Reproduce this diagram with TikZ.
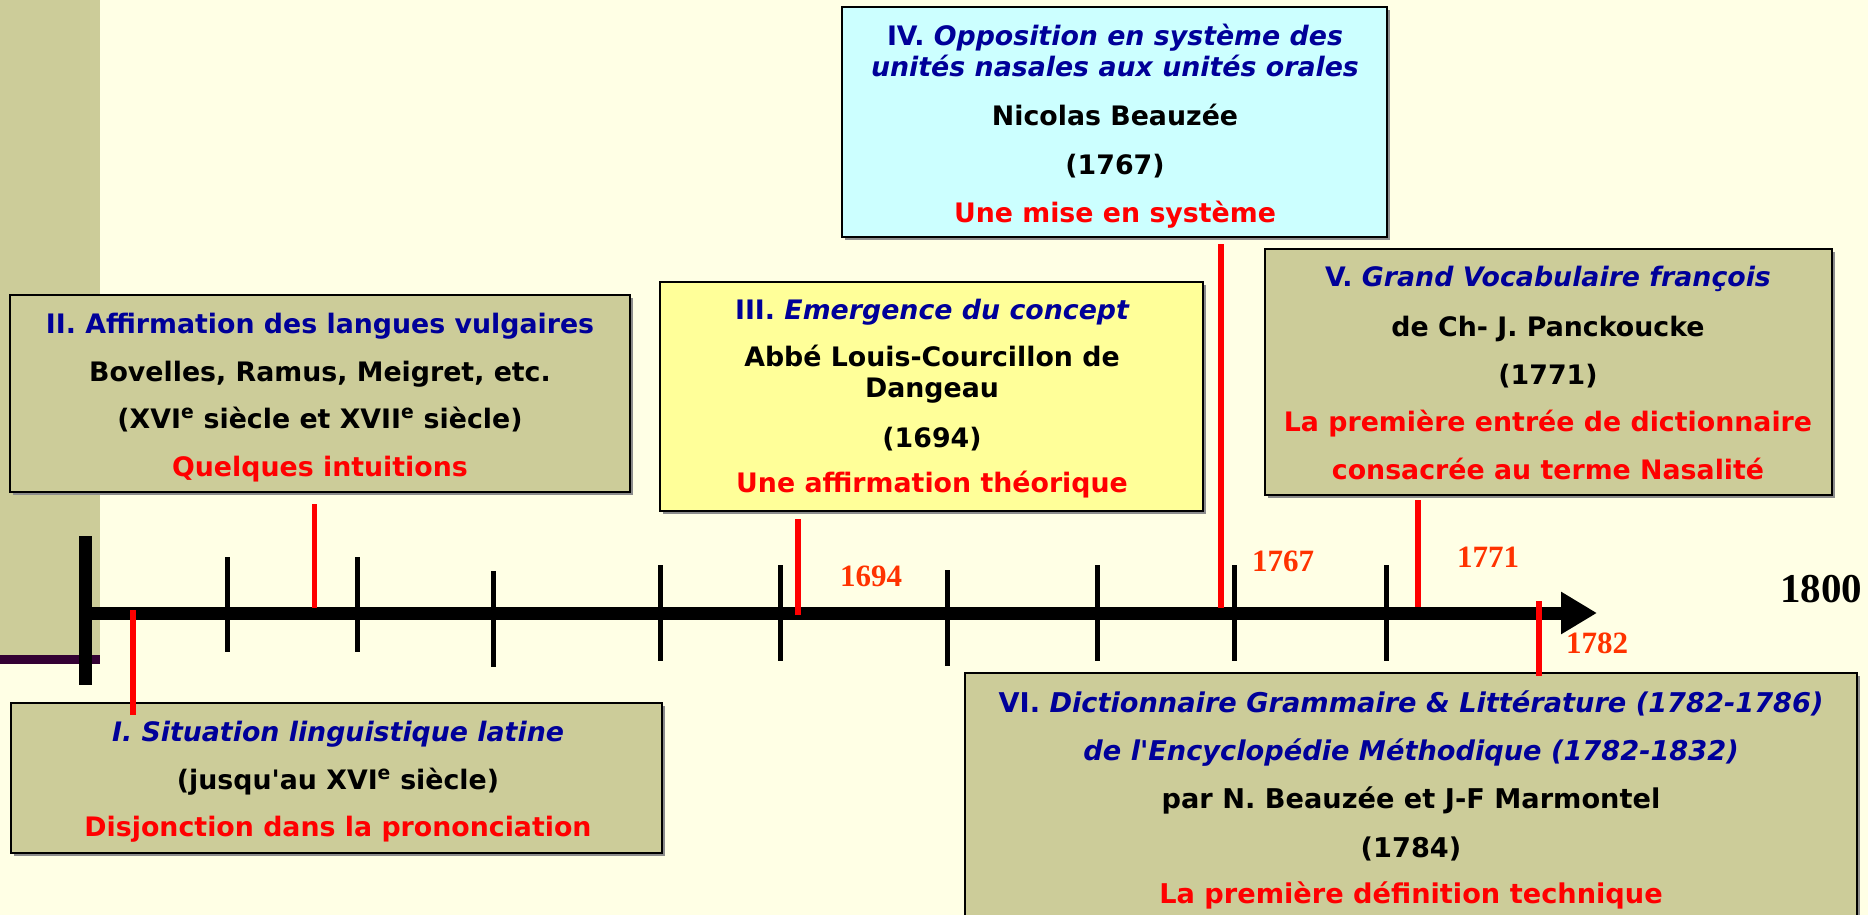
\documentclass[tikz,border=0pt]{standalone}
\usepackage{fontspec}
\setmainfont{DejaVu Sans}
\newfontfamily\yearfont{Liberation Serif}
\usetikzlibrary{arrows.meta}
\definecolor{bgyellow}{HTML}{FFFFE5}
\definecolor{olivefill}{HTML}{CCCC99}
\definecolor{paleyellow}{HTML}{FFFF99}
\definecolor{palecyan}{HTML}{CCFFFF}
\definecolor{titleblue}{HTML}{000099}
\definecolor{datered}{HTML}{FF3300}
\definecolor{bandpurple}{HTML}{330033}
\newcommand{\sq}{\textquotesingle}
\tikzset{
  panel/.style={draw=black, line width=1.5pt, inner sep=0pt, outer sep=0pt},
  panelshadow/.style={fill=black!45, draw=none},
  ln/.style={anchor=base, inner sep=0pt, font=\fontsize{26.8}{30}\selectfont\bfseries},
  ttl/.style={ln, text=titleblue},
  conc/.style={ln, text=red},
  lnvi/.style={ln, font=\fontsize{27.2}{30}\selectfont\bfseries},
  ttlvi/.style={lnvi, text=titleblue},
  concvi/.style={lnvi, text=red},
  tickmark/.style={line width=5pt},
  redmark/.style={draw=red, line width=5.5pt},
  yearlbl/.style={inner sep=0pt, text=datered, font=\yearfont\bfseries\fontsize{31}{31}\selectfont},
}
\begin{document}
\begin{tikzpicture}[x=1pt,y=-1pt]
\useasboundingbox (0,0) rectangle (1868,915);
\fill[bgyellow] (0,0) rectangle (1868,915);
% left band
\fill[olivefill] (0,0) rectangle (100,655);
\fill[bandpurple] (0,655) rectangle (100,664);

% shadows
\fill[panelshadow] (13,298) rectangle (633,495);
\fill[panelshadow] (14,706) rectangle (665,856);
\fill[panelshadow] (663,285) rectangle (1206,514);
\fill[panelshadow] (845,10) rectangle (1390,240);
\fill[panelshadow] (1268,252) rectangle (1835,498);
\fill[panelshadow] (968,676) rectangle (1860,938);

% panels
\node[panel, fill=olivefill, minimum width=620pt, minimum height=197pt] (boxII) at (320,393.5) {};
\node[panel, fill=olivefill, minimum width=651pt, minimum height=150pt] (boxI) at (336.5,778) {};
\node[panel, fill=paleyellow, minimum width=543pt, minimum height=229pt] (boxIII) at (931.5,396.5) {};
\node[panel, fill=palecyan, minimum width=545pt, minimum height=230pt] (boxIV) at (1114.5,122) {};
\node[panel, fill=olivefill, minimum width=567pt, minimum height=246pt] (boxV) at (1548.5,372) {};
\node[panel, fill=olivefill, minimum width=892pt, minimum height=262pt] (boxVI) at (1411,804) {};

% Box II
\node[ttl] (t2a) at (320,333) {II. Affirmation des langues vulgaires};
\node[ln] (t2b) at (320,381) {Bovelles, Ramus, Meigret, etc.};
\node[ln] (t2c) at (320,428) {(XVI\textsuperscript{e} siècle et XVII\textsuperscript{e} siècle)};
\node[conc] (t2d) at (320,476) {Quelques intuitions};

% Box I
\node[ttl] (t1a) at (338,741) {\itshape I. Situation linguistique latine};
\node[ln] (t1b) at (338,789) {(jusqu\sq au XVI\textsuperscript{e} siècle)};
\node[conc] (t1c) at (338,836) {Disjonction dans la prononciation};

% Box III
\node[ttl] (t3a) at (932,319) {III. \itshape Emergence du concept};
\node[ln] (t3b) at (932,366) {Abbé Louis-Courcillon de};
\node[ln] (t3c) at (932,397) {Dangeau};
\node[ln] (t3d) at (932,447) {(1694)};
\node[conc] (t3e) at (932,492) {Une affirmation théorique};

% Box IV
\node[ttl] (t4a) at (1115,46) {IV. \itshape Opposition en système des};
\node[ttl] (t4b) at (1115,77) {\itshape unités nasales aux unités orales};
\node[ln] (t4c) at (1115,126) {Nicolas Beauzée};
\node[ln] (t4d) at (1115,174) {(1767)};
\node[conc] (t4e) at (1115,222) {Une mise en système};

% Box V
\node[ttl] (t5a) at (1548,286) {V. \itshape Grand Vocabulaire françois};
\node[ln] (t5b) at (1548,336) {de Ch- J. Panckoucke};
\node[ln] (t5c) at (1548,384) {(1771)};
\node[conc] (t5d) at (1548,431) {La première entrée de dictionnaire};
\node[conc] (t5e) at (1548,479) {consacrée au terme Nasalité};

% Box VI
\node[ttlvi] (t6a) at (1411,712) {VI. \itshape Dictionnaire Grammaire \& Littérature (1782-1786)};
\node[ttlvi] (t6b) at (1411,760) {\itshape de l\sq Encyclopédie Méthodique (1782-1832)};
\node[lnvi] (t6c) at (1411,808) {par N. Beauzée et J-F Marmontel};
\node[lnvi] (t6d) at (1411,857) {(1784)};
\node[concvi] (t6e) at (1411,903) {La première définition technique};

% axis
\coordinate (axstart) at (86,613);
\coordinate (axend) at (1597,613);
\draw[line width=13pt, -{Triangle[length=36pt, width=40pt]}] (axstart) -- (axend);
\draw[line width=13pt] (85.5,536) -- (85.5,685);

% ticks
\draw[tickmark] (227.5,557) -- (227.5,652);
\draw[tickmark] (357.6,557) -- (357.6,652);
\draw[tickmark] (493.4,571) -- (493.4,667);
\draw[tickmark] (660,565) -- (660,661);
\draw[tickmark] (780.7,565) -- (780.7,661);
\draw[tickmark] (947.6,570) -- (947.6,666);
\draw[tickmark] (1097.7,565) -- (1097.7,661);
\draw[tickmark] (1234.8,565) -- (1234.8,661);
\draw[tickmark] (1386,565) -- (1386,661);

% red marks
\draw[redmark] (133,610) -- (133,715);
\draw[redmark] (314.5,504) -- (314.5,608);
\draw[redmark] (798,519) -- (798,615);
\draw[redmark] (1221,244) -- (1221,608);
\draw[redmark] (1418,500) -- (1418,607);
\draw[redmark] (1539,601) -- (1539,676);

% year labels
\node[yearlbl] (y1694) at (871,576) {1694};
\node[yearlbl] (y1767) at (1283,561) {1767};
\node[yearlbl] (y1771) at (1488,557) {1771};
\node[yearlbl] (y1782) at (1597,643) {1782};
\node[yearlbl, text=black, font=\yearfont\bfseries\fontsize{41}{41}\selectfont] (y1800) at (1821,589) {1800};
\end{tikzpicture}
\end{document}
